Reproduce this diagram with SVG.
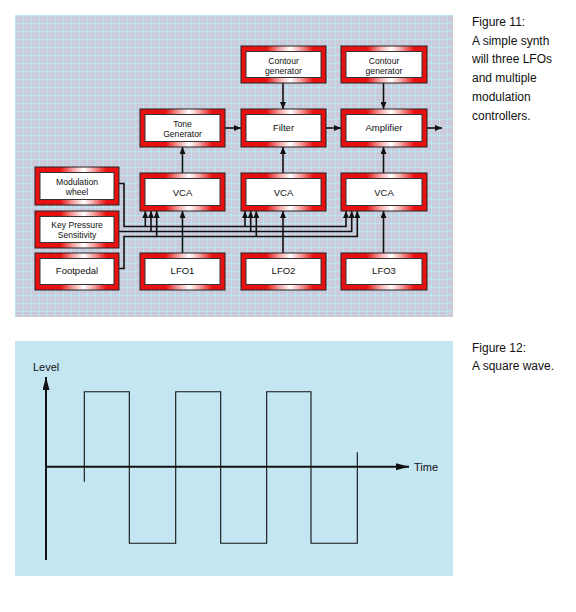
<svg xmlns="http://www.w3.org/2000/svg" width="576" height="612" viewBox="0 0 576 612">
<style>
.outer{fill:url(#rg);stroke:#222;stroke-width:1}
.inner{fill:#fff;stroke:#333;stroke-width:1}
.t{font-family:"Liberation Sans",Arial,sans-serif;font-size:9.5px;text-anchor:middle;fill:#111}
.t2{font-family:"Liberation Sans",Arial,sans-serif;font-size:8.6px;text-anchor:middle;fill:#111}
.cap{font-family:"Liberation Sans",Arial,sans-serif;font-size:12px;fill:#111}
.ax{font-family:"Liberation Sans",Arial,sans-serif;font-size:11px;fill:#111}
.ca{fill:none;stroke:#111;stroke-width:1.6;marker-end:url(#ah)}
.wave{fill:none;stroke:#111;stroke-width:1.1}
</style>
<defs>
<linearGradient id="rg" x1="0" y1="0" x2="1" y2="0">
<stop offset="0" stop-color="#e81010"/>
<stop offset="0.3" stop-color="#e81010"/>
<stop offset="0.45" stop-color="#f5a0a0"/>
<stop offset="0.58" stop-color="#ffffff"/>
<stop offset="0.7" stop-color="#f5a0a0"/>
<stop offset="0.85" stop-color="#e81010"/>
<stop offset="1" stop-color="#e81010"/>
</linearGradient>
<pattern id="grid" width="8" height="8" patternUnits="userSpaceOnUse" x="15" y="15">
<rect width="8" height="8" fill="#cbcbdc"/>
<line x1="0.5" y1="0" x2="0.5" y2="8" stroke="#b6ecf8" stroke-width="1" stroke-dasharray="2,1"/>
<line x1="0" y1="0.5" x2="8" y2="0.5" stroke="#b6ecf8" stroke-width="1" stroke-dasharray="2,1"/>
</pattern>
<marker id="ah" viewBox="0 0 10 10" refX="10" refY="5" markerWidth="7" markerHeight="6" markerUnits="userSpaceOnUse" orient="auto" preserveAspectRatio="none">
<path d="M0,0 L10,5 L0,10 z" fill="#111"/>
</marker>
<marker id="big" viewBox="0 0 10 10" refX="10" refY="5" markerWidth="13" markerHeight="7" markerUnits="userSpaceOnUse" orient="auto" preserveAspectRatio="none">
<path d="M0,0 L10,5 L0,10 z" fill="#111"/>
</marker>
</defs>
<rect width="576" height="612" fill="#fff"/>
<rect x="15" y="15" width="438" height="302" fill="url(#grid)"/>
<rect x="15" y="341" width="438" height="235" fill="#c4e5f2"/>

<g id="connectors">
<path class="ca" d="M283,83 V109"/>
<path class="ca" d="M383.5,83 V109"/>
<path class="ca" d="M225,128 H241"/>
<path class="ca" d="M326,128 H341"/>
<path class="ca" d="M427,128 H442"/>
<path class="ca" d="M182.5,173 V147"/>
<path class="ca" d="M283,173 V147"/>
<path class="ca" d="M383.5,173 V147"/>
<path class="ca" d="M182.5,253 V211"/>
<path class="ca" d="M283,253 V211"/>
<path class="ca" d="M383.5,253 V211"/>
<path class="ca" d="M119,183.5 H124 V226.5 H346 V211"/>
<path class="ca" d="M145.3,226.5 V211"/>
<path class="ca" d="M245,226.5 V211"/>
<path class="ca" d="M119,231.5 H351.7 V211"/>
<path class="ca" d="M151,231.5 V211"/>
<path class="ca" d="M250.7,231.5 V211"/>
<path class="ca" d="M119,268.5 H124 V236.5 H357.3 V211"/>
<path class="ca" d="M156.7,236.5 V211"/>
<path class="ca" d="M256.3,236.5 V211"/>
</g>

<g id="n-contour1"><rect class="outer" x="241" y="46" width="85" height="37"/><rect class="inner" x="246" y="51.5" width="75" height="26"/><text class="t2" x="283.5" y="63.5">Contour</text><text class="t2" x="283.5" y="73.5">generator</text></g>
<g id="n-contour2"><rect class="outer" x="341" y="46" width="86" height="37"/><rect class="inner" x="346" y="51.5" width="76" height="26"/><text class="t2" x="384" y="63.5">Contour</text><text class="t2" x="384" y="73.5">generator</text></g>
<g id="n-tone"><rect class="outer" x="140" y="109" width="85" height="38"/><rect class="inner" x="145" y="114.5" width="75" height="27"/><text class="t2" x="182.5" y="126.8">Tone</text><text class="t2" x="182.5" y="136.8">Generator</text></g>
<g id="n-filter"><rect class="outer" x="241" y="109" width="85" height="38"/><rect class="inner" x="246" y="114.5" width="75" height="27"/><text class="t" x="283.5" y="131">Filter</text></g>
<g id="n-amp"><rect class="outer" x="341" y="109" width="86" height="38"/><rect class="inner" x="346" y="114.5" width="76" height="27"/><text class="t" x="384" y="131">Amplifier</text></g>
<g id="n-vca1"><rect class="outer" x="140" y="173" width="85" height="38"/><rect class="inner" x="145" y="178.5" width="75" height="27"/><text class="t" x="182.5" y="195.5">VCA</text></g>
<g id="n-vca2"><rect class="outer" x="241" y="173" width="85" height="38"/><rect class="inner" x="246" y="178.5" width="75" height="27"/><text class="t" x="283.5" y="195.5">VCA</text></g>
<g id="n-vca3"><rect class="outer" x="341" y="173" width="86" height="38"/><rect class="inner" x="346" y="178.5" width="76" height="27"/><text class="t" x="384" y="195.5">VCA</text></g>
<g id="n-modwheel"><rect class="outer" x="35" y="167" width="84" height="38"/><rect class="inner" x="40" y="172.5" width="74" height="27"/><text class="t2" x="77" y="185.3">Modulation</text><text class="t2" x="77" y="195.3">wheel</text></g>
<g id="n-keypressure"><rect class="outer" x="35" y="211" width="84" height="37"/><rect class="inner" x="40" y="216.5" width="74" height="26"/><text class="t2" x="77" y="227.8">Key Pressure</text><text class="t2" x="77" y="237.8">Sensitivity</text></g>
<g id="n-footpedal"><rect class="outer" x="35" y="253" width="84" height="37"/><rect class="inner" x="40" y="258.5" width="74" height="26"/><text class="t" x="77" y="274">Footpedal</text></g>
<g id="n-lfo1"><rect class="outer" x="140" y="253" width="85" height="37"/><rect class="inner" x="145" y="258.5" width="75" height="26"/><text class="t" x="182.5" y="274">LFO1</text></g>
<g id="n-lfo2"><rect class="outer" x="241" y="253" width="85" height="37"/><rect class="inner" x="246" y="258.5" width="75" height="26"/><text class="t" x="283.5" y="274">LFO2</text></g>
<g id="n-lfo3"><rect class="outer" x="341" y="253" width="86" height="37"/><rect class="inner" x="346" y="258.5" width="76" height="26"/><text class="t" x="384" y="274">LFO3</text></g>

<g id="caption11">
<text class="cap" x="472" y="26">Figure 11:</text>
<text class="cap" x="472" y="44.7">A simple synth</text>
<text class="cap" x="472" y="63.4">will three LFOs</text>
<text class="cap" x="472" y="82">and multiple</text>
<text class="cap" x="472" y="100.8">modulation</text>
<text class="cap" x="472" y="119.5">controllers.</text>
</g>

<g id="figure12">
<path d="M46,560 V377" fill="none" stroke="#111" stroke-width="2" marker-end="url(#big)"/>
<path d="M46,466.7 H409" fill="none" stroke="#111" stroke-width="2" marker-end="url(#big)"/>
<path class="wave" d="M84.3,481.7 V391.7 H129.3 V543.3 H175.7 V391.7 H220.7 V543.3 H266.7 V391.7 H311 V543.3 H357.3 V452.3"/>
<text class="ax" x="33" y="371">Level</text>
<text class="ax" x="414" y="470.5">Time</text>
</g>

<g id="caption12">
<text class="cap" x="472" y="352">Figure 12:</text>
<text class="cap" x="472" y="370">A square wave.</text>
</g>
</svg>
